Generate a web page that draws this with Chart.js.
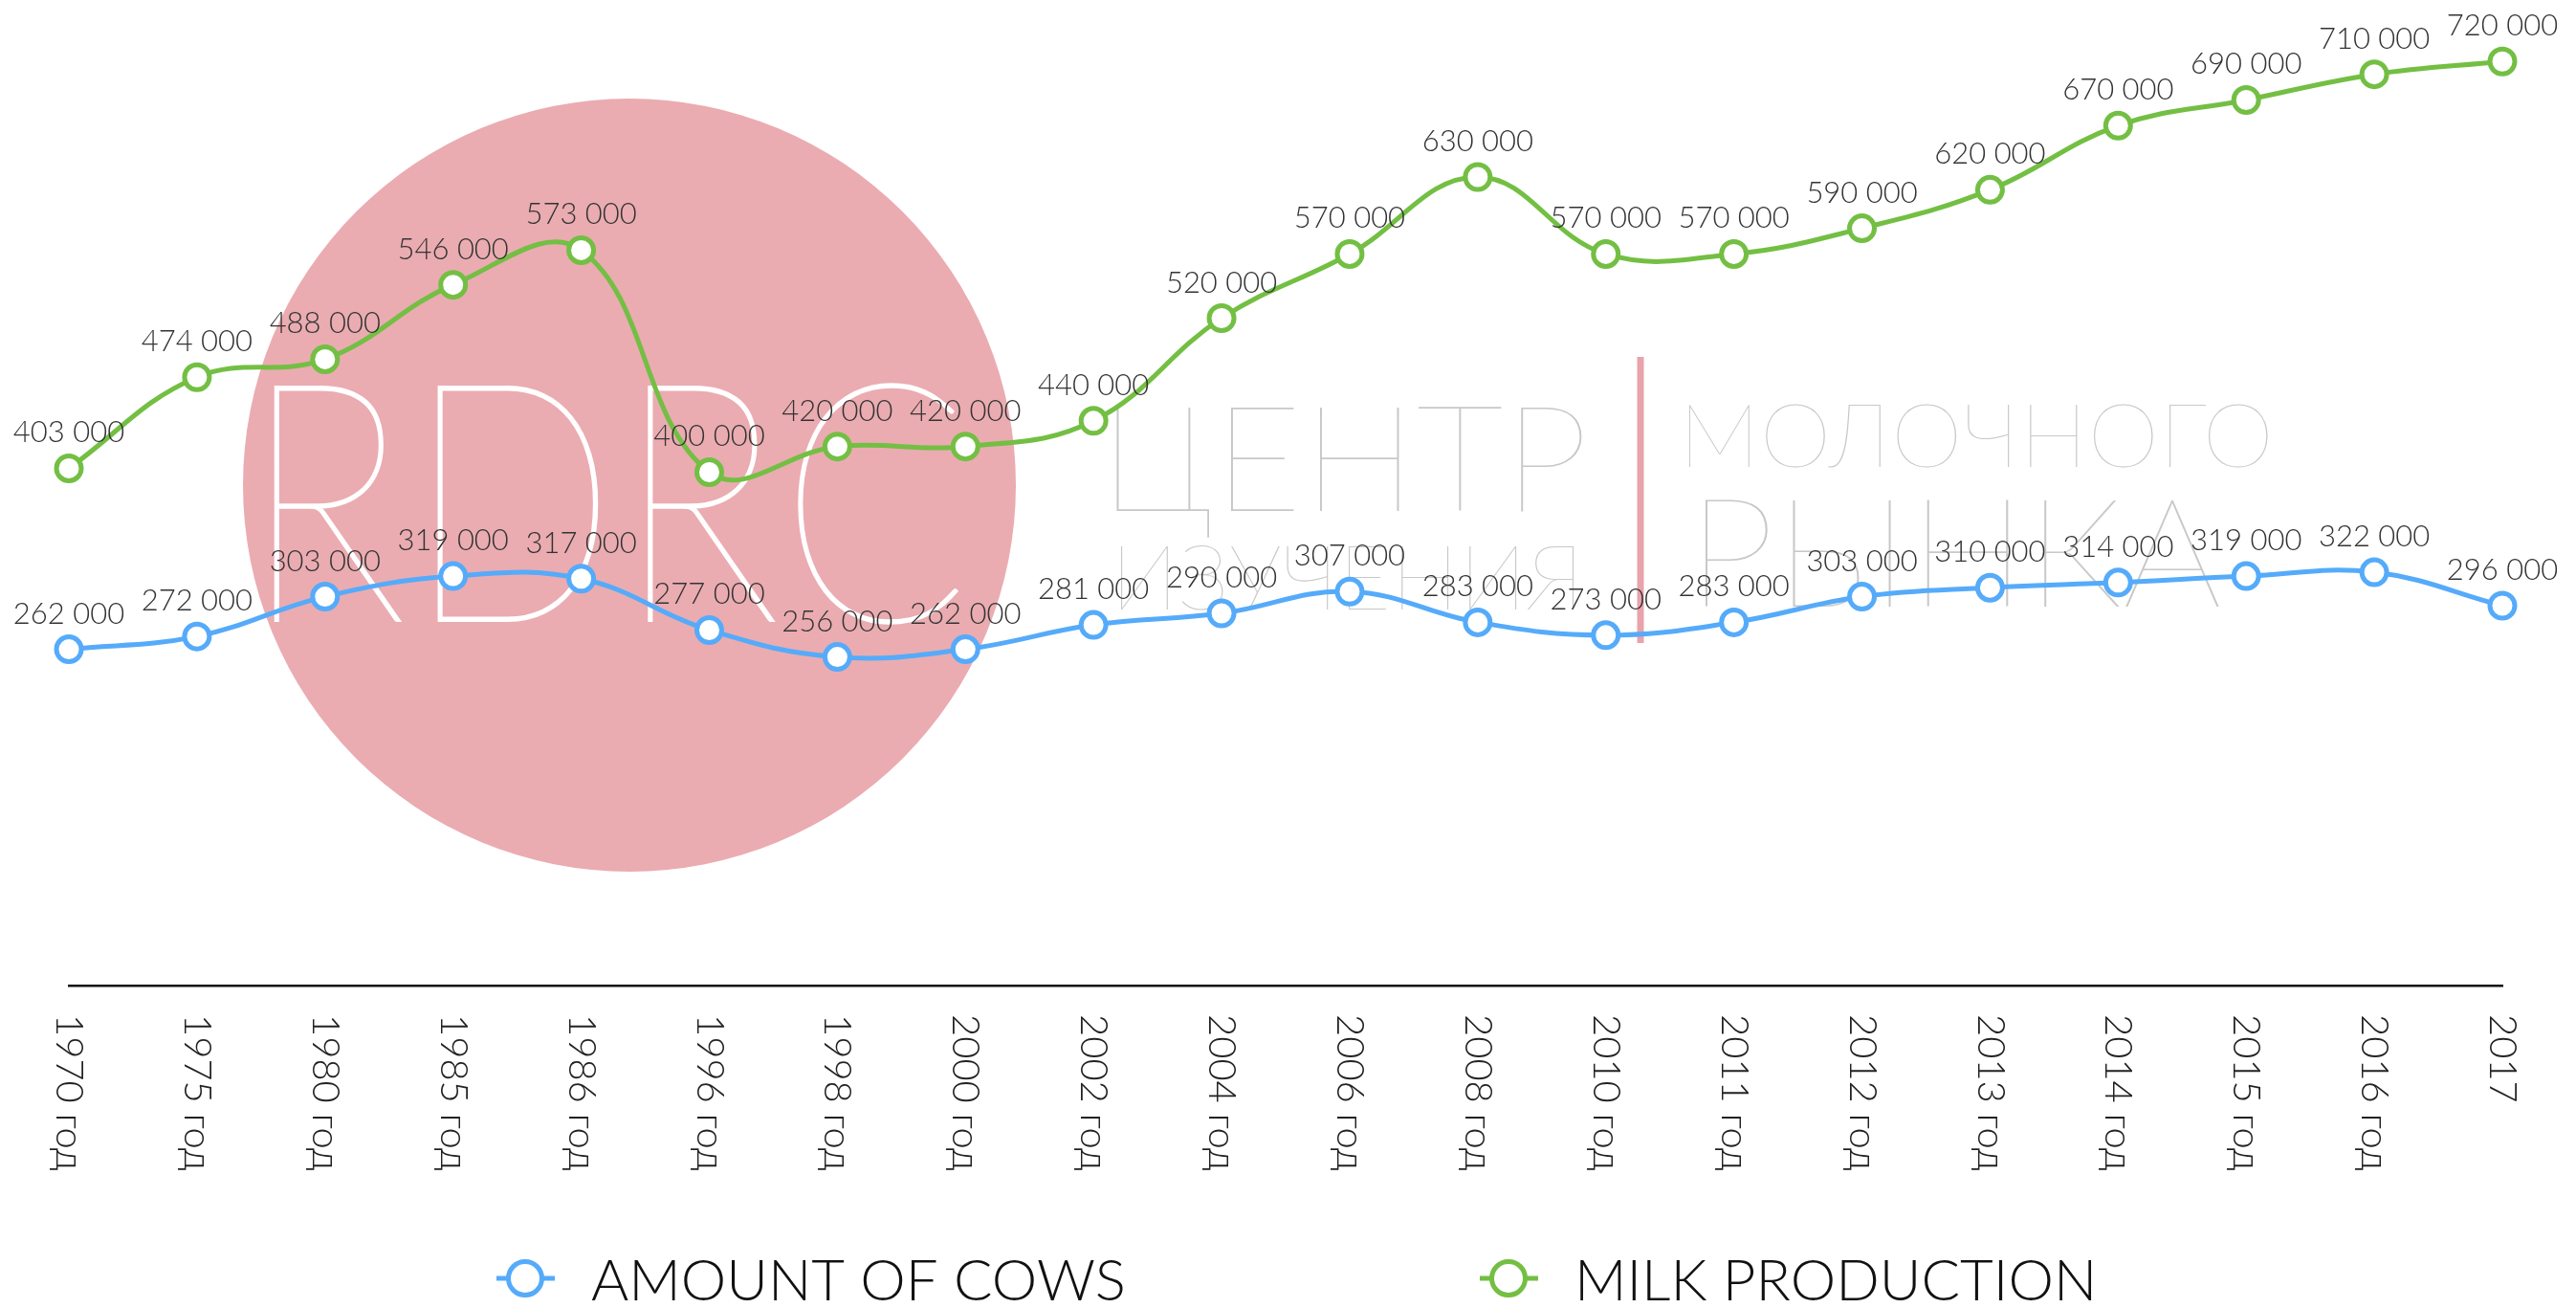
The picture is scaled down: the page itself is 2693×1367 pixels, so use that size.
<!DOCTYPE html>
<html>
<head>
<meta charset="utf-8">
<title>Cows and milk production</title>
<script src="https://cdn.jsdelivr.net/npm/chart.js@4/dist/chart.umd.min.js"></script>
<style>
	html, body { margin: 0; padding: 0; background: #fff; overflow: hidden; }
	canvas { display: block; }
</style>
</head>
<body>
<canvas id="chart" width="2693" height="1367"></canvas>
<script>
let years = ['1970 год', '1975 год', '1980 год', '1985 год', '1986 год', '1996 год', '1998 год', '2000 год', '2002 год', '2004 год',
	'2006 год', '2008 год', '2010 год', '2011 год', '2012 год', '2013 год', '2014 год', '2015 год', '2016 год', '2017'];
let cows = [262000, 272000, 303000, 319000, 317000, 277000, 256000, 262000, 281000, 290000,
	307000, 283000, 273000, 283000, 303000, 310000, 314000, 319000, 322000, 296000];
let milk = [403000, 474000, 488000, 546000, 573000, 400000, 420000, 420000, 440000, 520000,
	570000, 630000, 570000, 570000, 590000, 620000, 670000, 690000, 710000, 720000];
let seriesNames = ['AMOUNT OF COWS', 'MILK PRODUCTION'];

const blue = '#55abfa';
const green = '#73bf43';
const font = 'Lato, "Helvetica Neue", "Liberation Sans", sans-serif';

function spaced(v) {
	return String(v).replace(/\B(?=(\d{3})+(?!\d))/g, ' ');
}

// text squeezed/stretched into a box: left x, baseline, cap height, width
function boxText(ctx, text, x, base, capH, width, weight, stroke) {
	ctx.font = weight + ' ' + (capH / 0.717) + 'px ' + font;
	const w = ctx.measureText(text).width;
	ctx.save();
	ctx.translate(x, base);
	ctx.scale(width / w, 1);
	ctx.textAlign = 'left';
	ctx.textBaseline = 'alphabetic';
	ctx.fillText(text, 0, 0);
	if (stroke) {
		ctx.strokeStyle = ctx.fillStyle;
		ctx.lineWidth = stroke;
		ctx.strokeText(text, 0, 0);
	}
	ctx.restore();
}

const watermark = {
	id: 'watermark',
	beforeDatasetsDraw(chart) {
		const ctx = chart.ctx;
		ctx.save();
		ctx.fillStyle = '#eaacb1';
		ctx.beginPath();
		ctx.arc(658, 507, 404, 0, Math.PI * 2);
		ctx.fill();

		ctx.fillStyle = '#ffffff';
		boxText(ctx, 'RDRC', 254, 649, 251, 759, 100, 2);

		ctx.fillStyle = '#c8c8c8';
		boxText(ctx, 'ЦЕНТР', 1149, 534, 110, 512, 100);
		boxText(ctx, 'ИЗУЧЕНИЯ', 1161, 637, 67, 495, 100);
		boxText(ctx, 'МОЛОЧНОГО', 1755, 488, 66, 622, 100);
		boxText(ctx, 'РЫНКА', 1764, 634, 114, 559, 100);

		ctx.strokeStyle = '#e8a3ab';
		ctx.lineWidth = 7;
		ctx.beginPath();
		ctx.moveTo(1715, 373);
		ctx.lineTo(1715, 672);
		ctx.stroke();
		ctx.restore();
	}
};

const valueLabels = {
	id: 'valueLabels',
	afterDatasetsDraw(chart) {
		const ctx = chart.ctx;
		ctx.save();
		ctx.font = '300 31px ' + font;
		ctx.fillStyle = '#333333';
		ctx.textAlign = 'center';
		ctx.textBaseline = 'alphabetic';
		chart.data.datasets.forEach((ds, i) => {
			chart.getDatasetMeta(i).data.forEach((pt, j) => {
				ctx.fillText(spaced(ds.data[j]), pt.x, pt.y - 27);
			});
		});
		ctx.restore();
	}
};

const yearLabels = {
	id: 'yearLabels',
	afterDraw(chart) {
		const ctx = chart.ctx;
		const scale = chart.scales.x;
		ctx.save();
		ctx.font = '300 40px ' + font;
		ctx.fillStyle = '#222222';
		ctx.textAlign = 'left';
		ctx.textBaseline = 'middle';
		years.forEach((label, i) => {
			ctx.save();
			ctx.translate(scale.getPixelForTick(i), scale.top + 30);
			ctx.rotate(Math.PI / 2);
			ctx.fillText(label, 0, 0);
			ctx.restore();
		});
		ctx.restore();
	}
};

const bottomLegend = {
	id: 'bottomLegend',
	afterDraw(chart) {
		const ctx = chart.ctx;
		const y = 1336;
		const starts = [519, 1547];
		ctx.save();
		chart.data.datasets.forEach((ds, i) => {
			const x = starts[i];
			ctx.strokeStyle = ds.borderColor;
			ctx.lineWidth = 5;
			ctx.beginPath();
			ctx.moveTo(x, y);
			ctx.lineTo(x + 61, y);
			ctx.stroke();
			ctx.fillStyle = '#ffffff';
			ctx.beginPath();
			ctx.arc(x + 30, y, 17.5, 0, Math.PI * 2);
			ctx.fill();
			ctx.stroke();
			ctx.fillStyle = '#111111';
			ctx.font = '300 60px ' + font;
			ctx.textAlign = 'left';
			ctx.textBaseline = 'alphabetic';
			ctx.fillText(ds.label, x + 99, y + 23);
		});
		ctx.restore();
	}
};

function dataset(label, data, color) {
	return {
		label: label,
		data: data,
		borderColor: color,
		backgroundColor: color,
		borderWidth: 5,
		tension: 0.4,
		pointRadius: 13,
		pointHoverRadius: 13,
		pointBorderWidth: 5,
		pointBackgroundColor: '#ffffff',
		pointBorderColor: color,
		clip: false
	};
}

new Chart(document.getElementById('chart'), {
	type: 'line',
	data: {
		labels: years,
		datasets: [
			dataset(seriesNames[0], cows, blue),
			dataset(seriesNames[1], milk, green)
		]
	},
	options: {
		responsive: false,
		animation: false,
		events: [],
		layout: { padding: { left: 72, right: 77, top: 24, bottom: 337 } },
		scales: {
			x: {
				offset: false,
				grid: { display: false, drawTicks: false },
				border: { display: true, color: '#111111', width: 2.5 },
				ticks: { display: false }
			},
			y: {
				display: false,
				min: 0,
				max: 750000
			}
		},
		plugins: {
			legend: { display: false },
			tooltip: { enabled: false }
		}
	},
	plugins: [watermark, valueLabels, yearLabels, bottomLegend]
});
</script>
</body>
</html>
